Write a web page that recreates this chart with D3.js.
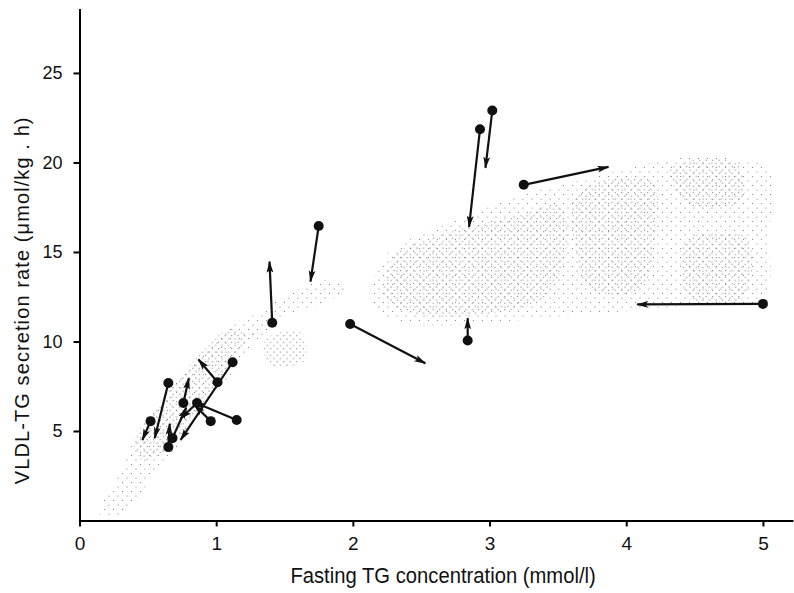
<!DOCTYPE html>
<html>
<head>
<meta charset="utf-8">
<script src="https://cdn.jsdelivr.net/npm/d3@7"></script>
<style>
  body { margin: 0; background: #fff; }
  svg { display: block; }
</style>
</head>
<body>
<div id="chart"></div>
<script>
const width = 794;
const height = 593;

const xTicks = [0, 1, 2, 3, 4, 5];
const yTicks = [5, 10, 15, 20, 25];

// each arrow: filled circle at (fromX, fromY), arrow head at (toX, toY)
const fromX = [5.00, 3.25, 3.02, 2.93, 2.84, 1.98, 1.75, 1.41,
               1.12, 1.01, 1.15, 0.96, 0.76, 0.65, 0.52, 0.86, 0.65, 0.68];
const fromY = [12.1, 18.75, 22.9, 21.85, 10.05, 10.98, 16.45, 11.05,
               8.84, 7.72, 5.61, 5.55, 6.56, 7.68, 5.55, 6.56, 4.1, 4.6];
const toX   = [4.08, 3.87, 2.97, 2.85, 2.84, 2.53, 1.69, 1.39,
               0.74, 0.87, 0.84, 0.84, 0.80, 0.55, 0.46, 0.74, 0.66, 0.78];
const toY   = [12.07, 19.75, 19.7, 16.4, 11.3, 8.78, 13.35, 14.46,
               4.5, 9.0, 6.6, 6.45, 7.95, 4.6, 4.5, 5.7, 5.4, 6.3];

// stippled areas (outlines in data units)
const bandLight = [[0.15, 0.3], [0.30, 2.8], [0.44, 5.05], [0.63, 7.0], [0.85, 8.95], [1.07, 10.6],
                   [1.21, 11.2], [1.28, 10.35], [1.18, 8.95], [1.03, 7.3], [0.85, 5.6], [0.70, 3.95],
                   [0.52, 2.25], [0.30, 0.3]];
const bandDense = [[0.40, 4.3], [0.55, 6.2], [0.72, 7.9], [0.92, 9.6], [1.10, 10.7], [1.22, 10.3],
                   [1.10, 8.7], [0.95, 7.0], [0.80, 5.4], [0.62, 3.9], [0.47, 3.3]];
const midLight = [[1.21, 10.9], [1.47, 12.4], [1.83, 13.45], [1.94, 12.9], [1.76, 12.05],
                  [1.47, 11.3], [1.28, 10.1]];
const midDense = [[1.36, 10.1], [1.61, 10.55], [1.65, 8.95], [1.39, 8.7]];
const cloudLight = [[2.13, 12.3], [2.24, 14.8], [2.49, 15.95], [2.86, 17.1], [3.22, 18.2], [3.52, 18.75],
                    [3.81, 19.3], [4.10, 19.85], [4.40, 20.25], [4.84, 20.15], [5.05, 19.6], [5.05, 16.2],
                    [5.00, 12.3], [4.54, 12.05], [4.10, 11.75], [3.66, 11.5], [3.08, 11.1], [2.57, 10.9],
                    [2.27, 11.3]];
const cloudDense1 = [[2.24, 12.3], [2.31, 14.8], [2.71, 16.1], [3.22, 17.05], [3.52, 17.6], [3.55, 14.55],
                     [3.37, 12.3], [2.93, 11.5], [2.49, 11.5]];
const cloudDense2 = [[3.63, 18.2], [4.18, 19.0], [4.21, 15.7], [4.10, 12.9], [3.74, 12.9], [3.63, 15.1]];
const cloudDense3 = [[4.43, 15.65], [4.87, 15.85], [4.92, 14.0], [4.84, 12.3], [4.47, 12.3], [4.40, 14.0]];
const cloudDense4 = [[4.32, 19.6], [4.80, 20.0], [4.85, 17.9], [4.47, 17.6]];

const svg = d3.select("#chart")
  .append("svg")
  .attr("width", width)
  .attr("height", height)
  .attr("viewBox", `0 0 ${width} ${height}`);

const x = d3.scaleLinear().domain([0, 5.22]).range([79.5, 793]);
const y = d3.scaleLinear().domain([0, 28.6]).range([520.5, 8.5]);

const defs = svg.append("defs");

const light = defs.append("pattern")
  .attr("id", "light")
  .attr("patternUnits", "userSpaceOnUse")
  .attr("width", 9).attr("height", 9);
light.append("circle").attr("cx", 1).attr("cy", 1).attr("r", 0.6).attr("fill", "#777");
light.append("circle").attr("cx", 5.5).attr("cy", 5.5).attr("r", 0.6).attr("fill", "#777");

const dense = defs.append("pattern")
  .attr("id", "dense")
  .attr("patternUnits", "userSpaceOnUse")
  .attr("width", 6.5).attr("height", 6.5);
dense.append("circle").attr("cx", 1).attr("cy", 1).attr("r", 0.65).attr("fill", "#6a6a6a");
dense.append("circle").attr("cx", 4.25).attr("cy", 4.25).attr("r", 0.65).attr("fill", "#6a6a6a");

defs.append("marker")
  .attr("id", "head")
  .attr("markerUnits", "userSpaceOnUse")
  .attr("viewBox", "0 -4 12 8")
  .attr("refX", 11).attr("refY", 0)
  .attr("markerWidth", 12).attr("markerHeight", 8)
  .attr("orient", "auto")
  .append("path")
  .attr("d", "M0,-3.4L12,0L0,3.4L2.5,0Z")
  .attr("fill", "#111");

const area = d3.line()
  .x(d => x(d[0]))
  .y(d => y(d[1]))
  .curve(d3.curveCatmullRomClosed);

const stipple = [
  [bandLight, "light"], [midLight, "light"], [cloudLight, "light"],
  [bandDense, "dense"], [midDense, "dense"],
  [cloudDense1, "dense"], [cloudDense2, "dense"], [cloudDense3, "dense"], [cloudDense4, "dense"]
];

svg.append("g")
  .selectAll("path")
  .data(stipple)
  .enter()
  .append("path")
  .attr("d", d => area(d[0]))
  .attr("fill", d => `url(#${d[1]})`);

// axes
const xAxis = d3.axisBottom(x).tickValues(xTicks).tickFormat(d => d)
  .tickSize(6).tickSizeOuter(0).tickPadding(10);
const yAxis = d3.axisLeft(y).tickValues(yTicks).tickFormat(d => d)
  .tickSize(6).tickSizeOuter(0).tickPadding(11);

const gx = svg.append("g")
  .attr("transform", "translate(0," + y(0) + ")")
  .call(xAxis);
gx.select(".domain").attr("stroke-width", 2);
gx.selectAll(".tick line").attr("stroke-width", 2);
gx.selectAll(".tick text")
  .attr("font-family", "'Liberation Sans', Arial, sans-serif")
  .attr("font-size", 19)
  .attr("fill", "#111");

const gy = svg.append("g")
  .attr("transform", "translate(" + x(0) + ",0)")
  .call(yAxis);
gy.select(".domain").attr("stroke-width", 2);
gy.selectAll(".tick line").attr("stroke-width", 2);
gy.selectAll(".tick text")
  .attr("font-family", "'Liberation Sans', Arial, sans-serif")
  .attr("font-size", 18)
  .attr("fill", "#111");

svg.append("text")
  .attr("transform", "translate(" + x(2.66) + ",583) scale(0.92,1)")
  .attr("text-anchor", "middle")
  .attr("font-family", "'Liberation Sans', Arial, sans-serif")
  .attr("font-size", 22)
  .attr("fill", "#111")
  .text("Fasting TG concentration (mmol/l)");

svg.append("text")
  .attr("transform", "translate(29," + y(12.3) + ") rotate(-90)")
  .attr("text-anchor", "middle")
  .attr("font-family", "'Liberation Sans', Arial, sans-serif")
  .attr("font-size", 20)
  .attr("letter-spacing", 1.1)
  .attr("fill", "#111")
  .text("VLDL-TG secretion rate (\u03bcmol/kg . h)");

// arrows
const arrows = d3.range(fromX.length);

svg.append("g")
  .selectAll("line")
  .data(arrows)
  .enter()
  .append("line")
  .attr("x1", i => x(fromX[i]))
  .attr("y1", i => y(fromY[i]))
  .attr("x2", i => x(toX[i]))
  .attr("y2", i => y(toY[i]))
  .attr("stroke", "#111")
  .attr("stroke-width", 2.2)
  .attr("marker-end", "url(#head)");

svg.append("g")
  .selectAll("circle")
  .data(arrows)
  .enter()
  .append("circle")
  .attr("cx", i => x(fromX[i]))
  .attr("cy", i => y(fromY[i]))
  .attr("r", 5)
  .attr("fill", "#111");
</script>
</body>
</html>
